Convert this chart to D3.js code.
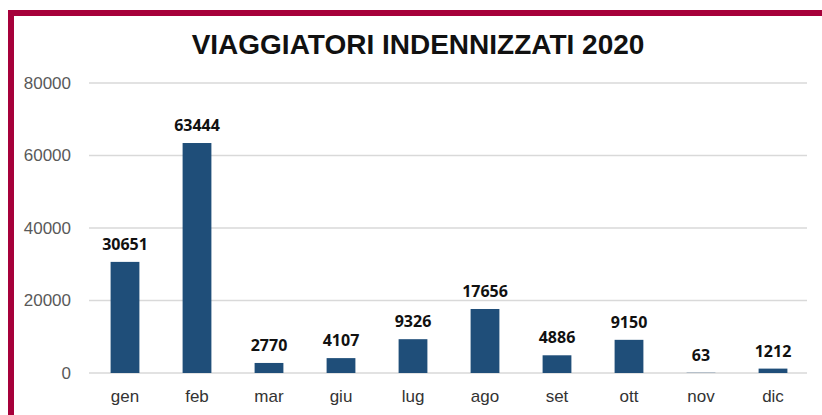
<!DOCTYPE html>
<html>
<head>
<meta charset="utf-8">
<script src="https://cdn.jsdelivr.net/npm/d3@7"></script>
<style>
  body { margin: 0; background: #fff; }
  svg { display: block; }
</style>
</head>
<body>
<svg id="chart" width="822" height="415"></svg>
<script>
// mesi e viaggiatori indennizzati
var months = ["gen", "feb", "mar", "giu", "lug", "ago", "set", "ott", "nov", "dic"];
var travellers = [30651, 63444, 2770, 4107, 9326, 17656, 4886, 9150, 63, 1212];
var yTicks = [0, 20000, 40000, 60000, 80000];

var svg = d3.select("#chart");

// cornice rossa (solo sopra e a sinistra)
svg.append("path")
  .attr("d", "M11,415 L11,13 L822,13")
  .attr("fill", "none")
  .attr("stroke", "#a6003a")
  .attr("stroke-width", 6);

svg.append("text")
  .attr("x", 418)
  .attr("y", 54)
  .attr("text-anchor", "middle")
  .attr("font-family", "Liberation Sans, Arial, sans-serif")
  .attr("font-weight", "bold")
  .attr("font-size", 28)
  .attr("fill", "#111")
  .text("VIAGGIATORI INDENNIZZATI 2020");

var x = d3.scaleBand()
  .domain(months)
  .range([89, 809])
  .paddingInner(0.6)
  .paddingOuter(0.3);

var y = d3.scaleLinear()
  .domain([0, 80000])
  .range([373, 83]);

// griglia
svg.append("g")
  .selectAll("line")
  .data(yTicks)
  .enter().append("line")
  .attr("x1", 89)
  .attr("x2", 807)
  .attr("y1", function(d) { return y(d); })
  .attr("y2", function(d) { return y(d); })
  .attr("stroke", "#d9d9d9")
  .attr("stroke-width", 1.5);

// asse y
var yAxis = svg.append("g")
  .attr("transform", "translate(71,0)")
  .call(d3.axisLeft(y).tickValues(yTicks).tickSize(0).tickPadding(0).tickFormat(d3.format("d")));
yAxis.select(".domain").remove();
yAxis.selectAll("text")
  .attr("font-family", "Liberation Sans, Arial, sans-serif")
  .attr("font-size", 17)
  .attr("fill", "#595959");

// barre
svg.append("g")
  .selectAll("rect")
  .data(months)
  .enter().append("rect")
  .attr("x", function(d) { return x(d); })
  .attr("y", function(d, i) { return y(travellers[i]); })
  .attr("width", x.bandwidth())
  .attr("height", function(d, i) { return y(0) - y(travellers[i]); })
  .attr("fill", "#1f4e79");

// etichette valori
svg.append("g")
  .selectAll("text")
  .data(months)
  .enter().append("text")
  .attr("x", function(d) { return x(d) + x.bandwidth() / 2; })
  .attr("y", function(d, i) { return y(travellers[i]) - 12; })
  .attr("text-anchor", "middle")
  .attr("font-family", "Open Sans, sans-serif")
  .attr("font-weight", "bold")
  .attr("font-size", 16)
  .attr("fill", "#111")
  .text(function(d, i) { return travellers[i]; });

// asse x
var xAxis = svg.append("g")
  .attr("transform", "translate(0,373)")
  .call(d3.axisBottom(x).tickSize(0).tickPadding(0));
xAxis.select(".domain").remove();
xAxis.selectAll("text")
  .attr("dy", null)
  .attr("y", 29)
  .attr("font-family", "Liberation Sans, Arial, sans-serif")
  .attr("font-size", 17)
  .attr("fill", "#333");
</script>
</body>
</html>
